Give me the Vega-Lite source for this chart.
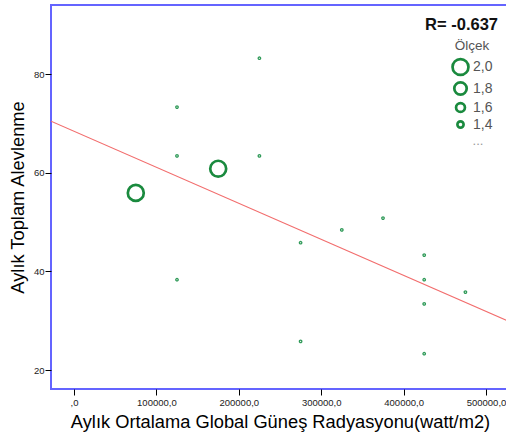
{
  "$schema": "https://vega.github.io/schema/vega-lite/v6.json",
  "width": 458,
  "height": 384,
  "autosize": "none",
  "padding": {"left": 51, "top": 5, "right": 0, "bottom": 50},
  "background": "white",
  "config": {
    "font": "Liberation Sans",
    "view": {"stroke": "#6464ff", "strokeWidth": 2},
    "axis": {
      "grid": false,
      "domain": false,
      "ticks": true,
      "tickColor": "#000000",
      "tickSize": 6,
      "labelFont": "Liberation Sans",
      "labelFontSize": 9.5,
      "labelColor": "#222222",
      "titleFont": "Liberation Sans",
      "titleFontSize": 18.3,
      "titleFontWeight": "normal",
      "titleColor": "#000000"
    },
    "legend": {
      "titleFont": "Liberation Sans",
      "titleFontSize": 13.5,
      "titleFontWeight": "normal",
      "titleColor": "#555555",
      "labelFont": "Liberation Sans",
      "labelFontSize": 14,
      "labelColor": "#555555",
      "symbolStrokeWidth": 2.7,
      "symbolStrokeColor": "#1a8a3e"
    }
  },
  "datasets": {
    "points": [
      {"radiation": 75000, "flares": 55.9, "scale": 2.0},
      {"radiation": 175000, "flares": 60.8, "scale": 2.0},
      {"radiation": 125000, "flares": 73.3, "scale": 1.0},
      {"radiation": 125000, "flares": 63.4, "scale": 1.0},
      {"radiation": 125000, "flares": 38.3, "scale": 1.0},
      {"radiation": 225000, "flares": 83.2, "scale": 1.0},
      {"radiation": 225000, "flares": 63.4, "scale": 1.0},
      {"radiation": 275000, "flares": 45.8, "scale": 1.0},
      {"radiation": 275000, "flares": 25.8, "scale": 1.0},
      {"radiation": 325000, "flares": 48.4, "scale": 1.0},
      {"radiation": 375000, "flares": 50.8, "scale": 1.0},
      {"radiation": 425000, "flares": 43.3, "scale": 1.0},
      {"radiation": 425000, "flares": 38.3, "scale": 1.0},
      {"radiation": 425000, "flares": 33.4, "scale": 1.0},
      {"radiation": 425000, "flares": 23.3, "scale": 1.0},
      {"radiation": 475000, "flares": 35.8, "scale": 1.0}
    ],
    "fit": [
      {"radiation": -27900, "flares": 70.44},
      {"radiation": 527900, "flares": 29.86}
    ],
    "label": [
      {"radiation": 514600, "flares": 90.0, "text": "R= -0.637"}
    ],
    "more": [
      {"radiation": 490300, "flares": 66.4, "text": "..."}
    ]
  },
  "layer": [
    {
      "data": {"name": "fit"},
      "mark": {"type": "line", "color": "#f26d6d", "strokeWidth": 1.2, "clip": true},
      "encoding": {
        "x": {"field": "radiation", "type": "quantitative", "scale": {"domain": [-27900, 527900], "nice": false, "zero": false},
          "axis": {"values": [0, 100000, 200000, 300000, 400000, 500000], "labelPadding": 2, "titlePadding": 7,
            "labelExpr": "datum.value == 0 ? ',0' : replace(format(datum.value, '.1f'), '.', ',')"},
          "title": "Aylık Ortalama Global Güneş Radyasyonu(watt/m2)"},
        "y": {"field": "flares", "type": "quantitative", "scale": {"domain": [16.15, 93.99], "nice": false, "zero": false},
          "axis": {"values": [20, 40, 60, 80], "labelPadding": 1, "titlePadding": 6},
          "title": "Aylık Toplam Alevlenme"}
      }
    },
    {
      "data": {"name": "points"},
      "mark": {"type": "point", "shape": "circle", "filled": false, "color": "#1a8a3e", "opacity": 1},
      "encoding": {
        "x": {"field": "radiation", "type": "quantitative"},
        "y": {"field": "flares", "type": "quantitative"},
        "color": {"condition": {"test": "datum.scale < 1.5", "value": "#2f9a58"}, "value": "#1a8a3e"},
        "strokeWidth": {"condition": {"test": "datum.scale < 1.5", "value": 1.3}, "value": 2.7},
        "size": {"field": "scale", "type": "quantitative",
          "scale": {"domain": [1.0, 1.4, 1.6, 1.8, 2.0], "range": [6, 38, 79, 154, 254]},
          "legend": {
            "title": "Ölçek",
            "orient": "none",
            "legendX": 400,
            "legendY": 34,
            "titleAnchor": "middle",
            "titleAlign": "center",
            "values": [2.0, 1.8, 1.6, 1.4],
            "labelOffset": 3,
            "rowPadding": -4.5,
            "labelExpr": "replace(format(datum.value, '.1f'), '.', ',')"
          }
        }
      }
    },
    {
      "data": {"name": "label"},
      "mark": {"type": "text", "align": "right", "baseline": "middle", "fontSize": 16.5, "fontWeight": "bold", "color": "#111111", "font": "Liberation Sans"},
      "encoding": {
        "x": {"field": "radiation", "type": "quantitative"},
        "y": {"field": "flares", "type": "quantitative"},
        "text": {"field": "text"}
      }
    },
    {
      "data": {"name": "more"},
      "mark": {"type": "text", "align": "center", "baseline": "middle", "fontSize": 13, "color": "#999999", "font": "Liberation Sans"},
      "encoding": {
        "x": {"field": "radiation", "type": "quantitative"},
        "y": {"field": "flares", "type": "quantitative"},
        "text": {"field": "text"}
      }
    }
  ]
}
